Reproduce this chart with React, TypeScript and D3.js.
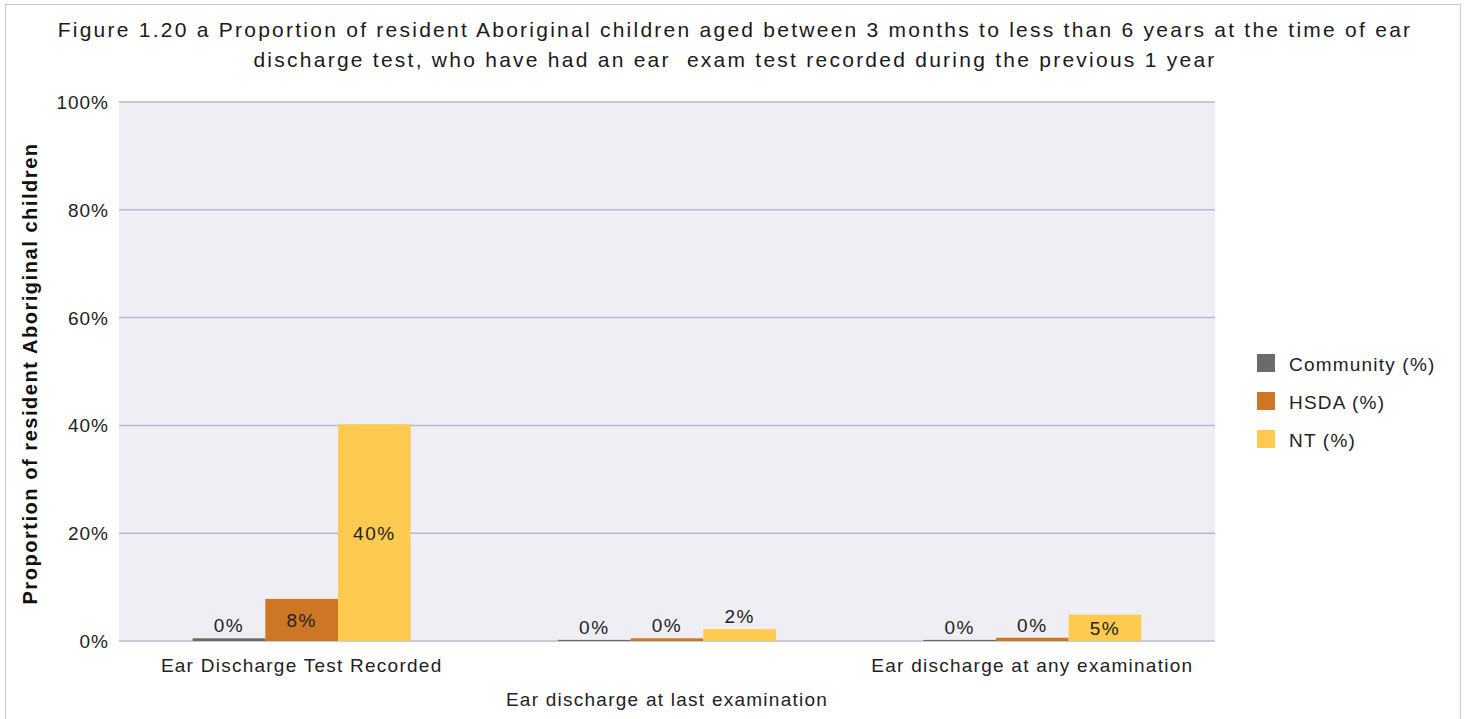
import React from "react";
import * as d3 from "d3";

const categories = [
  "Ear Discharge Test Recorded",
  "Ear discharge at last examination",
  "Ear discharge at any examination",
];
const seriesNames = ["Community (%)", "HSDA (%)", "NT (%)"];
const community = [0.5, 0.2, 0.2];
const hsda = [7.8, 0.5, 0.6];
const nt = [40.2, 2.2, 4.9];
const valueLabels = [
  ["0%", "0%", "0%"],
  ["8%", "0%", "0%"],
  ["40%", "2%", "5%"],
];
const yTicks = [0, 20, 40, 60, 80, 100];
const colors = ["#6b6b6b", "#cd7623", "#fecb50"];

const titleLines = [
  "Figure 1.20 a Proportion of resident Aboriginal children aged between 3 months to less than 6 years at the time of ear",
  "discharge test, who have had an ear  exam test recorded during the previous 1 year",
];

export default function App() {
  const W = 1467, H = 719;
  const left = 119, right = 1215, top = 102, bottom = 641;
  const font = "'Liberation Sans', Arial, sans-serif";
  const series = [community, hsda, nt];

  const x0 = d3.scaleBand<string>().domain(categories).range([left, right]).paddingInner(0).paddingOuter(0);
  const groupW = 218;
  const x1 = d3.scaleBand<string>().domain(seriesNames).range([0, groupW]);
  const y = d3.scaleLinear().domain([0, 100]).range([bottom, top]);

  const lbl = { fontSize: 19, letterSpacing: 1.2, fill: "#222" } as const;

  return (
    <svg
      width={W}
      height={H}
      style={{ position: "absolute", left: 0, top: 0, background: "#fff" }}
      fontFamily={font}
    >
      <rect x={5.5} y={4.5} width={1455} height={720} fill="#fff" stroke="#c8c8c8" />
      {titleLines.map((t, i) => (
        <text
          key={i}
          x={735}
          y={37 + i * 30}
          textAnchor="middle"
          fontSize={21}
          letterSpacing={2.25}
          fill="#1a1a1a"
          style={{ whiteSpace: "pre" }}
        >
          {t}
        </text>
      ))}
      <rect x={left} y={top} width={right - left} height={bottom - top} fill="#efeef4" />
      {yTicks.map((t) => (
        <g key={t}>
          <line x1={left} x2={right} y1={y(t)} y2={y(t)} stroke="#b9b8d2" strokeWidth={1.5} />
          <text x={109} y={y(t) + 7} textAnchor="end" {...lbl} letterSpacing={1}>
            {t}%
          </text>
        </g>
      ))}
      {categories.map((c, ci) => {
        const gx = (x0(c) as number) + x0.bandwidth() / 2 - groupW / 2;
        return (
          <g key={c}>
            {series.map((s, si) => {
              const bx = gx + (x1(seriesNames[si]) as number);
              const bw = x1.bandwidth();
              const v = s[ci];
              const yt = y(v);
              const h = bottom - yt;
              const inside = h > 24;
              const ly = inside ? yt + h / 2 + 7 : yt - 6;
              return (
                <g key={si}>
                  <rect x={bx} y={yt} width={bw} height={h} fill={colors[si]} />
                  <text x={bx + bw / 2} y={ly} textAnchor="middle" {...lbl} letterSpacing={1.5}>
                    {valueLabels[si][ci]}
                  </text>
                </g>
              );
            })}
            <text
              x={(x0(c) as number) + x0.bandwidth() / 2}
              y={ci === 1 ? 706 : 672}
              textAnchor="middle"
              {...lbl}
              letterSpacing={1.25}
            >
              {c}
            </text>
          </g>
        );
      })}
      <text
        transform={`translate(37, ${(top + bottom) / 2 + 2}) rotate(-90)`}
        textAnchor="middle"
        fontSize={20}
        letterSpacing={1.55}
        fontWeight="bold"
        fill="#111"
      >
        Proportion of resident Aboriginal children
      </text>
      {seriesNames.map((n, i) => (
        <g key={n}>
          <rect x={1257} y={354 + i * 38} width={18} height={18} fill={colors[i]} />
          <text x={1289} y={371 + i * 38} {...lbl}>
            {n}
          </text>
        </g>
      ))}
    </svg>
  );
}
